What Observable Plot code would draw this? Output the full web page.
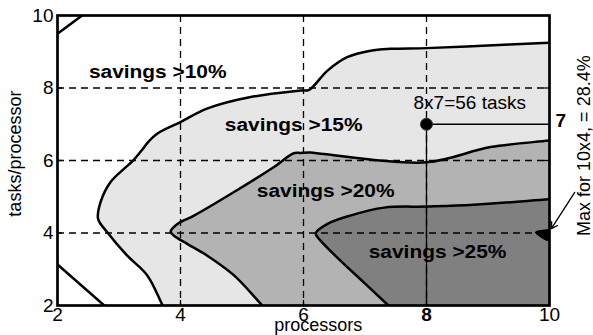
<!DOCTYPE html>
<html><head><meta charset="utf-8">
<script src="https://cdn.jsdelivr.net/npm/d3@7"></script>
<script src="https://cdn.jsdelivr.net/npm/@observablehq/plot@0.6"></script>
<style>body{margin:0;background:#fff}</style>
</head><body><div id="chart"></div>
<script>
// ---- data (processors, tasks/processor) ----
const xTicks = [2, 4, 6, 8, 10];
const yTicks = [2, 4, 6, 8, 10];
const gridTicks = [4, 6, 8];

// contour boundaries (first/last points continue the curve just past the frame)
const c10TopLeftX = [1.9, 2, 2.4, 2.5];
const c10TopLeftY = [9.375, 9.5, 10, 10.125];
const c10BottomLeftX = [1.9, 2, 2.76, 2.86];
const c10BottomLeftY = [3.28, 3.13, 2, 1.85];

const c15X = [3.86, 3.71, 3.46, 3.13, 2.81, 2.66, 2.70, 2.86, 3.08, 3.22, 3.36, 3.48, 3.62, 4.0, 4.43, 5.14, 5.95, 6.09, 6.39, 6.71, 7.09, 7.41, 8.0, 9.0, 10.0, 10.5];
const c15Y = [1.5, 2.0, 2.83, 3.38, 4.02, 4.39, 4.85, 5.40, 5.77, 5.98, 6.26, 6.52, 6.74, 7.06, 7.43, 7.75, 7.93, 7.95, 8.48, 8.85, 9.03, 9.08, 9.10, 9.17, 9.25, 9.29];

const c20X = [5.61, 5.33, 4.87, 4.43, 4.11, 3.89, 3.84, 3.95, 4.22, 4.87, 5.52, 5.84, 5.95, 6.11, 6.33, 8.0, 9.04, 10.0, 10.5];
const c20Y = [1.5, 2.0, 2.83, 3.38, 3.70, 3.93, 4.04, 4.25, 4.48, 5.13, 5.82, 6.20, 6.21, 6.22, 6.18, 5.95, 6.37, 6.55, 6.64];

const c25X = [7.69, 7.38, 6.98, 6.60, 6.25, 6.20, 6.39, 6.76, 7.31, 8.01, 8.77, 10.0, 10.5];
const c25Y = [1.5, 2.0, 2.64, 3.24, 3.84, 3.99, 4.25, 4.48, 4.70, 4.73, 4.78, 4.93, 4.99];

const maxBlobX = [10.2, 9.9, 9.77, 9.85, 9.95, 10.2];
const maxBlobY = [4.1, 4.08, 4.02, 3.9, 3.8, 3.72];

const regionText = ["savings >10%", "savings >15%", "savings >20%", "savings >25%"];
const regionX = [3.63, 5.84, 6.36, 8.18];
const regionY = [8.44, 6.97, 5.17, 3.48];

const pickX = 8, pickY = 7;
const pickLabel = "8x7=56 tasks";
const maxLabel = "Max for 10x4, = 28.4%";
const maxArrow = {x1: 10.41, y1: 5.12, x2: 10.03, y2: 4.12};

const fillColors = ["#e6e6e6", "#b3b3b3", "#808080"];

// ---- build ----
const pts = (xs, ys) => xs.map((x, i) => ({x, y: ys[i]}));
const closeRight = (p) => [...p, {x: p[p.length - 1].x, y: 1.5}];
const c15 = pts(c15X, c15Y), c20 = pts(c20X, c20Y), c25 = pts(c25X, c25Y);
const font = "'Liberation Sans', Arial, Helvetica, sans-serif";
const fs = 19;

const plot = Plot.plot({
  width: 593, height: 335,
  marginLeft: 57, marginRight: 44, marginTop: 15, marginBottom: 30,
  style: {fontFamily: font, fontSize: fs + "px", background: "#fff", color: "#000"},
  x: {domain: [2, 10], axis: null},
  y: {domain: [2, 10], axis: null},
  marks: [
    // filled regions
    Plot.line(closeRight(c15), {x: "x", y: "y", fill: fillColors[0], stroke: "none", curve: "catmull-rom", clip: true}),
    Plot.line(closeRight(c20), {x: "x", y: "y", fill: fillColors[1], stroke: "none", curve: "catmull-rom", clip: true}),
    Plot.line(closeRight(c25), {x: "x", y: "y", fill: fillColors[2], stroke: "none", curve: "catmull-rom", clip: true}),
    // region labels
    Plot.text(regionText, {x: (d, i) => regionX[i], y: (d, i) => regionY[i], text: d => d, fontWeight: "bold", fontSize: fs, lineAnchor: "middle"}),
    // dashed grid
    Plot.ruleX(gridTicks, {x: d => d, stroke: "#000", strokeWidth: 1.3, strokeDasharray: "7,5"}),
    Plot.ruleY(gridTicks, {y: d => d, stroke: "#000", strokeWidth: 1.3, strokeDasharray: "7,5"}),
    // contour lines
    Plot.line(pts(c10TopLeftX, c10TopLeftY), {x: "x", y: "y", stroke: "#000", strokeWidth: 2.5, clip: true}),
    Plot.line(pts(c10BottomLeftX, c10BottomLeftY), {x: "x", y: "y", stroke: "#000", strokeWidth: 2.5, clip: true}),
    Plot.line(c15, {x: "x", y: "y", stroke: "#000", strokeWidth: 2.5, curve: "catmull-rom", clip: true}),
    Plot.line(c20, {x: "x", y: "y", stroke: "#000", strokeWidth: 2.5, curve: "catmull-rom", clip: true}),
    Plot.line(c25, {x: "x", y: "y", stroke: "#000", strokeWidth: 2.5, curve: "catmull-rom", clip: true}),
    // max blob + arrow
    Plot.line(pts(maxBlobX, maxBlobY), {x: "x", y: "y", fill: "#000", stroke: "#000", strokeWidth: 1, curve: "catmull-rom", clip: true}),
    Plot.arrow([maxArrow], {x1: "x1", y1: "y1", x2: "x2", y2: "y2", stroke: "#000", strokeWidth: 1.3, headLength: 8}),
    Plot.text([maxLabel], {x: 10, y: 6.41, text: d => d, rotate: -90, dx: 35, fontSize: 18, lineAnchor: "middle"}),
    // picked configuration
    Plot.ruleX([pickX], {y1: 2, y2: pickY, stroke: "#000", strokeWidth: 1.3}),
    Plot.ruleY([pickY], {x1: pickX, x2: 10, stroke: "#000", strokeWidth: 1.3}),
    Plot.dot([{x: pickX, y: pickY}], {x: "x", y: "y", r: 6, fill: "#000", stroke: "#333", strokeWidth: 1}),
    Plot.text([pickLabel], {x: pickX, y: pickY, text: d => d, textAnchor: "start", dx: -13, dy: -21, fontSize: fs, lineAnchor: "middle"}),
    Plot.text([pickY], {x: 10, y: d => d, text: d => String(d), textAnchor: "start", dx: 6, dy: -3, fontWeight: "bold", fontSize: fs, lineAnchor: "middle"}),
    // inward tick marks
    Plot.ruleY(gridTicks, {y: d => d, x1: 2, x2: 2.08, stroke: "#000", strokeWidth: 1.3}),
    Plot.ruleY(gridTicks, {y: d => d, x1: 9.92, x2: 10, stroke: "#000", strokeWidth: 1.3}),
    Plot.ruleX(gridTicks, {x: d => d, y1: 2, y2: 2.14, stroke: "#000", strokeWidth: 1.3}),
    // frame
    Plot.frame({stroke: "#000", strokeWidth: 2.7}),
    // axes
    Plot.text(xTicks.filter(d => d !== pickX), {x: d => d, y: 2, text: d => String(d), dy: 2, lineAnchor: "top", fontSize: fs}),
    Plot.text([pickX], {x: d => d, y: 2, text: d => String(d), dy: 2, lineAnchor: "top", fontSize: fs, fontWeight: "bold"}),
    Plot.text(yTicks, {x: 2, y: d => d, text: d => String(d), textAnchor: "end", dx: -4, lineAnchor: "middle", fontSize: fs}),
    Plot.text(["processors"], {x: 6.24, y: 2, text: d => d, dy: 13, lineAnchor: "top", fontSize: 18}),
    Plot.text(["tasks/processor"], {x: 2, y: 6.19, text: d => d, rotate: -90, dx: -42, lineAnchor: "middle", fontSize: 18})
  ]
});
// the reference's bold labels are drawn slightly wider than the font's natural width
plot.querySelectorAll("text").forEach(t => {
  if (!regionText.includes(t.textContent)) return;
  const tr = t.getAttribute("transform");
  if (tr) t.setAttribute("transform", tr + " scale(1.1,1)");
});
document.getElementById("chart").appendChild(plot);
</script>
</body></html>
